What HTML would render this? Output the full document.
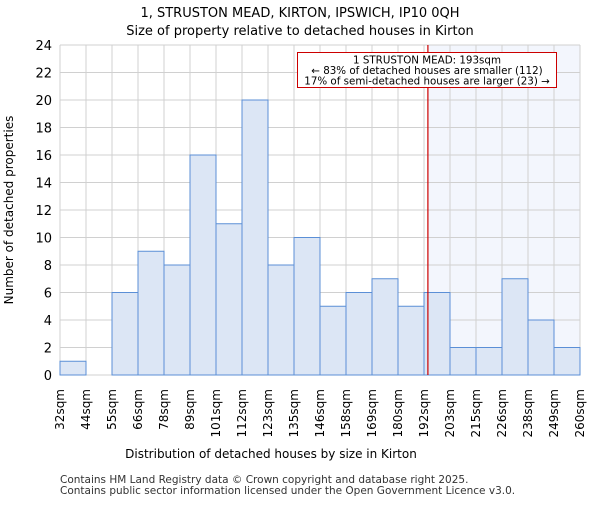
<!DOCTYPE html>
<html><head><meta charset="utf-8"><style>
body{margin:0;background:#fff}
svg{font-family:"DejaVu Sans","Liberation Sans",sans-serif}
</style></head><body>
<svg width="600" height="500" id="c">
<text x="300" y="17" text-anchor="middle" font-size="13">1, STRUSTON MEAD, KIRTON, IPSWICH, IP10 0QH</text>
<text x="300" y="35" text-anchor="middle" font-size="13">Size of property relative to detached houses in Kirton</text>
<g id="plot"></g>
<text x="271" y="458" text-anchor="middle" font-size="12">Distribution of detached houses by size in Kirton</text>
<text transform="translate(13,210) rotate(-90)" text-anchor="middle" font-size="12">Number of detached properties</text>
<text x="60" y="483" font-size="10.5" fill="#333">Contains HM Land Registry data © Crown copyright and database right 2025.</text>
<text x="60" y="494" font-size="10.5" fill="#333">Contains public sector information licensed under the Open Government Licence v3.0.</text>
</svg>
<script>
const categories=["32sqm","44sqm","55sqm","66sqm","78sqm","89sqm","101sqm","112sqm","123sqm","135sqm","146sqm","158sqm","169sqm","180sqm","192sqm","203sqm","215sqm","226sqm","238sqm","249sqm","260sqm"];
const counts=[1,0,6,9,8,16,11,20,8,10,5,6,7,5,6,2,2,7,4,2];
const yTicks=[0,2,4,6,8,10,12,14,16,18,20,22,24];
const markerBin=14.15;
const X0=60,X1=580,Y0=375,Y1=45,YMAX=24;
const bw=(X1-X0)/counts.length;
const xs=i=>X0+i*bw;
const ys=v=>Y0-(v/YMAX)*(Y0-Y1);
const ns="http://www.w3.org/2000/svg";
const g=document.getElementById('plot');
function mk(t,a){const e=document.createElementNS(ns,t);for(const k in a)e.setAttribute(k,a[k]);g.appendChild(e);return e;}
const sh=mk('rect',{x:xs(markerBin),y:Y1,width:X1-xs(markerBin),height:Y0-Y1,fill:'#f3f6fd'});


yTicks.forEach(v=>{const l=mk('line',{x1:X0,x2:X1,y1:ys(v),y2:ys(v),stroke:'#d0d0d0'});


const t=mk('text',{x:X0-8,y:ys(v)+5,'text-anchor':'end','font-size':13});t.textContent=v;

});
for(let i=0;i<=counts.length;i++){const l=mk('line',{x1:xs(i),x2:xs(i),y1:Y1,y2:Y0,stroke:'#d0d0d0'});

}
counts.forEach((v,i)=>{if(v<=0)return;const r=mk('rect',{x:xs(i),y:ys(v),width:bw,height:Y0-ys(v),fill:'#dce6f5',stroke:'#5b8fd6','stroke-width':1});

});
categories.forEach((c,i)=>{const t=mk('text',{transform:`translate(${xs(i)+4},389) rotate(-90)`,'text-anchor':'end','font-size':12});t.textContent=c;

});
const ml=mk('line',{x1:xs(markerBin),x2:xs(markerBin),y1:Y1,y2:Y0,stroke:'#cc0000','stroke-width':1.2});


const box=mk('rect',{x:297.5,y:52.5,width:259,height:35,fill:'#fff',stroke:'#cc0000'});


["1 STRUSTON MEAD: 193sqm","← 83% of detached houses are smaller (112)","17% of semi-detached houses are larger (23) →"].forEach((s,k)=>{const t=mk('text',{x:427,y:63.5+k*10.5,'text-anchor':'middle','font-size':10.3});t.textContent=s;

});
</script>
</body></html>
